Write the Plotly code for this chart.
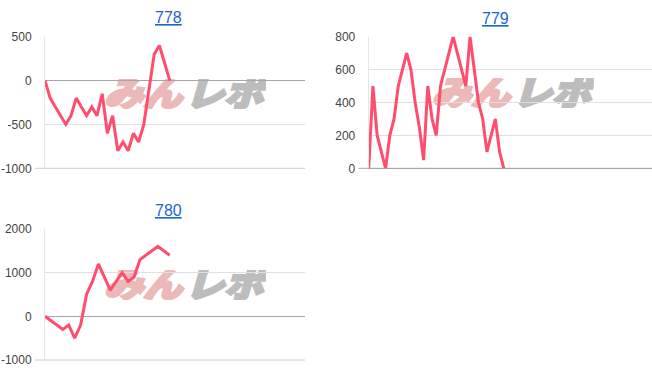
import base64
import plotly.graph_objects as go

W, H = 652, 382

# ---- data ----
titles = ["778", "779", "780"]
s778 = [0, -200, -300, -400, -500, -400, -200, -300, -400, -300, -400, -150,
        -600, -400, -800, -700, -800, -600, -700, -500, -100, 300, 400, 200, 0]
s779 = [0, 500, 200, 100, 0, 200, 300, 500, 600, 700, 600, 400, 250, 50, 500,
        300, 200, 500, 600, 700, 800, 700, 600, 500, 800, 600, 400, 300, 100,
        200, 300, 100, 0]
s780 = [0, -100, -200, -300, -200, -500, -200, 500, 800, 1200, 900, 600, 800,
        1000, 800, 900, 1300, 1400, 1500, 1600, 1500, 1400]
series = [s778, s779, s780]
y_ranges = [[-1000, 500], [0, 800], [-1000, 2000]]
y_ticks = [[-1000, -500, 0, 500], [0, 200, 400, 600, 800], [-1000, 0, 1000, 2000]]
x_ranges = [[0, 50], [0, 67.1], [0, 43.8]]

# ---- layout geometry (pixels) ----
boxes = [  # left, right, top, bottom
    (45, 305, 36.7, 168.3),
    (368.7, 652, 36.7, 168.3),
    (45, 305, 229, 360),
]
title_pos = [(168.3, 17.5), (495.7, 18.5), (168.3, 210.5)]
logo_pos = [(104, 79), (431.7, 78), (104, 270)]

LINE = "#ff4d6d"
GRID = "#e0e0e0"

fig = go.Figure()
names = ["", "2", "3"]
for i, ys in enumerate(series):
    xs = list(range(len(ys)))
    fig.add_trace(go.Scatter(
        x=xs, y=ys, mode="lines",
        line=dict(color=LINE, width=3),
        xaxis="x" + names[i], yaxis="y" + names[i],
        showlegend=False, hoverinfo="skip",
    ))

layout = dict(
    width=W, height=H,
    margin=dict(l=0, r=0, t=0, b=0, autoexpand=False),
    paper_bgcolor="white",
    plot_bgcolor="rgba(0,0,0,0)",
    font=dict(family="Liberation Sans, Arial, sans-serif", size=12, color="#444"),
    annotations=[], shapes=[], images=[],
)

svg = (
    "<svg xmlns='http://www.w3.org/2000/svg' width='162' height='30' viewBox='0 0 162 30'>"
    "<g transform='skewX(-16) translate(8,0)'>"
    "<text x='0' y='27' font-family='Noto Sans CJK JP' font-weight='900' "
    "font-size='34' textLength='78' lengthAdjust='spacingAndGlyphs' "
    "fill='#ecb9b9' stroke='#ecb9b9' stroke-width='2.5'>みん</text>"
    "<text x='81' y='27' font-family='Noto Sans CJK JP' font-weight='900' "
    "font-size='34' textLength='78' lengthAdjust='spacingAndGlyphs' "
    "fill='#bdbdbd' stroke='#bdbdbd' stroke-width='2.5'>レポ</text>"
    "</g></svg>"
)
svg_uri = "data:image/svg+xml;base64," + base64.b64encode(svg.encode("utf-8")).decode()

for i in range(3):
    l, r, t, b = boxes[i]
    xa = dict(
        domain=[l / W, r / W], range=x_ranges[i],
        showgrid=False, zeroline=False, showticklabels=False,
        showline=False, fixedrange=True, automargin=False,
    )
    ya = dict(
        domain=[(H - b) / H, (H - t) / H], range=y_ranges[i],
        tickvals=y_ticks[i], ticktext=[str(v) for v in y_ticks[i]],
        showgrid=True, gridcolor=GRID, gridwidth=1,
        zeroline=True, zerolinecolor="#a6a6a6", zerolinewidth=1,
        showline=True, linecolor="#e6e6e6", linewidth=1,
        ticks="outside", ticklen=0, ticklabelstandoff=10,
        tickfont=dict(size=12, color="#444"),
        fixedrange=True, automargin=False,
    )
    if i > 0:
        xa["anchor"] = "y" + names[i]
        ya["anchor"] = "x" + names[i]
    layout["xaxis" + names[i]] = xa
    layout["yaxis" + names[i]] = ya

    # bottom baseline extends slightly left of the axis
    layout["shapes"].append(dict(
        type="line", xref="paper", yref="paper",
        x0=(l - 10) / W, x1=r / W, y0=(H - b) / H, y1=(H - b) / H,
        line=dict(color="#a6a6a6" if y_ranges[i][0] == 0 else "#cccccc", width=1),
        layer="below",
    ))

    tx, ty = title_pos[i]
    layout["annotations"].append(dict(
        text="<u>" + titles[i] + "</u>", xref="paper", yref="paper",
        x=tx / W, y=(H - ty) / H, xanchor="center", yanchor="middle",
        showarrow=False,
        font=dict(family="Liberation Sans, Arial, sans-serif", size=16, color="#1a66cc"),
    ))

    lx, ly = logo_pos[i]
    layout["images"].append(dict(
        source=svg_uri, xref="paper", yref="paper",
        x=lx / W, y=(H - ly) / H, sizex=162 / W, sizey=30 / H,
        xanchor="left", yanchor="top", sizing="stretch", layer="below",
    ))

fig.update_layout(**layout)
fig.write_html(
    "out.html",
    config={"displayModeBar": False},
    post_script="document.body.style.margin='0';document.body.style.overflow='hidden';",
)
